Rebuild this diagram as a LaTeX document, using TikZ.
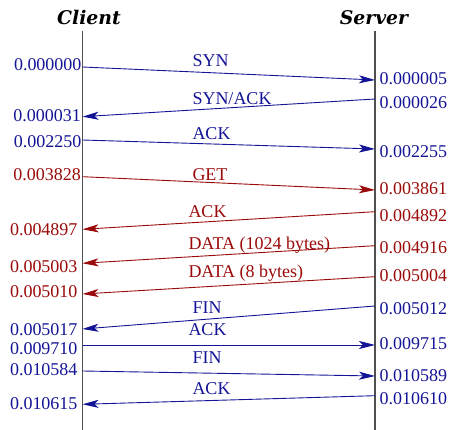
\documentclass[tikz,border=0pt]{standalone}
\usepackage{fontspec}
\setmainfont{Liberation Serif}
\newfontfamily\titlefont{DejaVu Serif}
\usetikzlibrary{arrows.meta}
\definecolor{msgblue}{RGB}{20,20,150}
\definecolor{msgred}{RGB}{155,10,10}
\definecolor{lifegray}{RGB}{80,80,80}
\tikzset{
  lifeline/.style={draw=lifegray, line width=1.2pt},
  msg/.style={line width=0.9pt, -{Stealth[length=16pt,width=8pt,inset=4pt]}},
  tlabel/.style={inner sep=0pt, font=\fontsize{18}{20}\selectfont},
  mlabel/.style={inner sep=0pt, anchor=base west, font=\fontsize{18}{20}\selectfont},
  lt/.style={tlabel, anchor=base east},
  rt/.style={tlabel, anchor=base west},
  title/.style={inner sep=0pt, anchor=base, font=\titlefont\bfseries\itshape\fontsize{18.8}{20}\selectfont},
}
\begin{document}
\begin{tikzpicture}[x=1pt,y=-1pt]
\useasboundingbox (0,0) rectangle (451,430);
% titles
\node[title] (client) at (89,25) {Client};
\node[title] (server) at (374,25) {Server};
% lifelines
\coordinate (ctop) at (82.5,31);
\coordinate (cbot) at (82.5,430);
\coordinate (stop) at (375,31);
\coordinate (sbot) at (375,430);
\draw[lifeline] (ctop) -- (cbot);
\draw[lifeline] (stop) -- (sbot);
% endpoints
\foreach \n/\y in {c1/67, c2/116.7, c3/140, c4/176.7, c5/229.3, c6/263.3, c7/294, c8/329, c9/345, c10/371, c11/404.3}
  \coordinate (\n) at (82.5,\y);
\foreach \n/\y in {s1/80, s2/99, s3/149, s4/190, s5/211.7, s6/245.7, s7/276.7, s8/306, s9/345, s10/376, s11/395.7}
  \coordinate (\n) at (375,\y);
% messages
\draw[msg, msgblue] (c1) -- (s1);
\draw[msg, msgblue] (s2) -- (c2);
\draw[msg, msgblue] (c3) -- (s3);
\draw[msg, msgred] (c4) -- (s4);
\draw[msg, msgred] (s5) -- (c5);
\draw[msg, msgred] (s6) -- (c6);
\draw[msg, msgred] (s7) -- (c7);
\draw[msg, msgblue] (s8) -- (c8);
\draw[msg, msgblue] (c9) -- (s9);
\draw[msg, msgblue] (c10) -- (s10);
\draw[msg, msgblue] (s11) -- (c11);
% message labels
\node[mlabel, msgblue] (m1) at (192.3,66.7) {SYN};
\node[mlabel, msgblue] (m2) at (192.3,104.3) {SYN/ACK};
\node[mlabel, msgblue] (m3) at (192.3,140) {ACK};
\node[mlabel, msgred] (m4) at (192.3,180.7) {GET};
\node[mlabel, msgred] (m5) at (188.3,217.3) {ACK};
\node[mlabel, msgred] (m6) at (188.3,250) {DATA (1024 bytes)};
\node[mlabel, msgred] (m7) at (188.3,277.3) {DATA (8 bytes)};
\node[mlabel, msgblue] (m8) at (192.3,314) {FIN};
\node[mlabel, msgblue] (m9) at (188.3,335.7) {ACK};
\node[mlabel, msgblue] (m10) at (192.3,363.3) {FIN};
\node[mlabel, msgblue] (m11) at (192.3,395) {ACK};
% client times
\node[lt, msgblue] (tc1) at (81.7,71) {0.000000};
\node[lt, msgblue] (tc2) at (81,121.7) {0.000031};
\node[lt, msgblue] (tc3) at (81.5,147.3) {0.002250};
\node[lt, msgred] (tc4) at (81,180.7) {0.003828};
\node[lt, msgred] (tc5) at (77.7,235.7) {0.004897};
\node[lt, msgred] (tc6) at (77.7,272.3) {0.005003};
\node[lt, msgred] (tc7) at (77.7,298) {0.005010};
\node[lt, msgblue] (tc8) at (77.7,335.7) {0.005017};
\node[lt, msgblue] (tc9) at (77.7,354.3) {0.009710};
\node[lt, msgblue] (tc10) at (77.7,376) {0.010584};
\node[lt, msgblue] (tc11) at (77.7,409.3) {0.010615};
% server times
\node[rt, msgblue] (ts1) at (379.3,84.3) {0.000005};
\node[rt, msgblue] (ts2) at (379.3,108.3) {0.000026};
\node[rt, msgblue] (ts3) at (379.3,157.7) {0.002255};
\node[rt, msgred] (ts4) at (379.3,195) {0.003861};
\node[rt, msgred] (ts5) at (379.3,221.7) {0.004892};
\node[rt, msgred] (ts6) at (379.3,253.3) {0.004916};
\node[rt, msgred] (ts7) at (379.3,281.7) {0.005004};
\node[rt, msgblue] (ts8) at (379.3,314.3) {0.005012};
\node[rt, msgblue] (ts9) at (379.3,350) {0.009715};
\node[rt, msgblue] (ts10) at (379.3,381.7) {0.010589};
\node[rt, msgblue] (ts11) at (379.3,404.3) {0.010610};
\end{tikzpicture}
\end{document}
